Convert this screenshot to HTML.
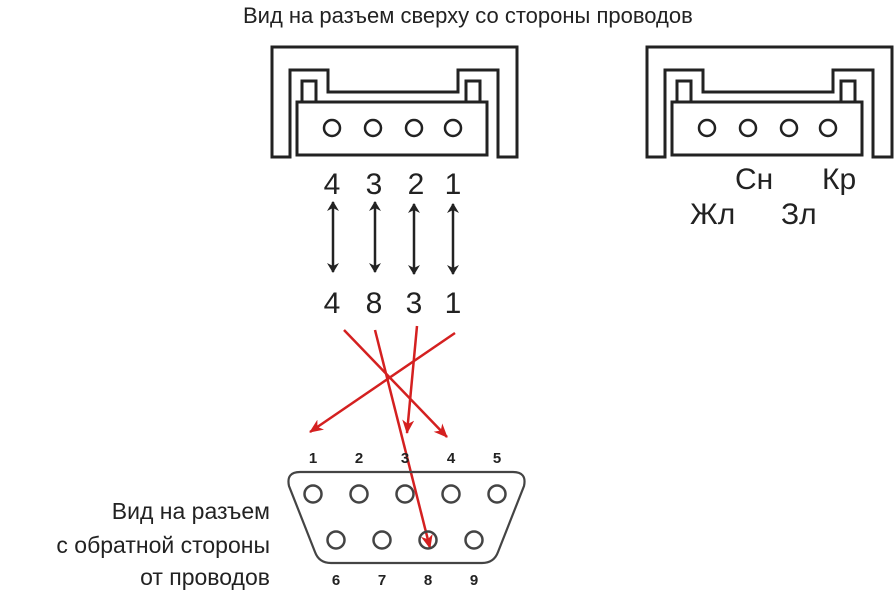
<!DOCTYPE html>
<html><head><meta charset="utf-8"><style>
body{margin:0;background:#fff;width:894px;height:595px;overflow:hidden}
svg{display:block}
text{font-family:"Liberation Sans",sans-serif;fill:#222}
</style></head><body>
<svg width="894" height="595" viewBox="0 0 894 595">
<defs>
<marker id="ar" markerWidth="10" markerHeight="12" refX="9" refY="6" orient="auto" markerUnits="userSpaceOnUse"><path d="M0,0 L10,6 L0,12 L3,6 Z" fill="#222"/></marker>
<marker id="al" markerWidth="10" markerHeight="12" refX="1" refY="6" orient="auto" markerUnits="userSpaceOnUse"><path d="M10,0 L0,6 L10,12 L7,6 Z" fill="#222"/></marker>
<marker id="rr" markerWidth="14" markerHeight="12" refX="13" refY="6" orient="auto" markerUnits="userSpaceOnUse"><path d="M0,0 L14,6 L0,12 L4,6 Z" fill="#d42020"/></marker>
<g id="con">
<path d="M272,47 H517 V157 H498 V70 H458 V92 H328 V70 H290 V157 H272 Z" fill="none" stroke="#222" stroke-width="3"/>
<rect x="302" y="81" width="14" height="21" fill="none" stroke="#222" stroke-width="3"/>
<rect x="466" y="81" width="14" height="21" fill="none" stroke="#222" stroke-width="3"/>
<rect x="297" y="102" width="190" height="53" fill="#fff" stroke="#222" stroke-width="3"/>
<circle cx="332" cy="128" r="8" fill="none" stroke="#222" stroke-width="2.5"/>
<circle cx="373" cy="128" r="8" fill="none" stroke="#222" stroke-width="2.5"/>
<circle cx="414" cy="128" r="8" fill="none" stroke="#222" stroke-width="2.5"/>
<circle cx="453" cy="128" r="8" fill="none" stroke="#222" stroke-width="2.5"/>
</g>
</defs>
<text x="243" y="23" font-size="22">Вид на разъем сверху со стороны проводов</text>
<use href="#con"/>
<use href="#con" transform="translate(375,0)"/>
<g font-size="30" text-anchor="middle">
<text x="332" y="194">4</text><text x="374" y="194">3</text><text x="416" y="194">2</text><text x="453" y="194">1</text>
<text x="332" y="313">4</text><text x="374" y="313">8</text><text x="414" y="313">3</text><text x="453" y="313">1</text>
</g>
<g font-size="30">
<text x="735" y="189">Сн</text><text x="822" y="189">Кр</text>
<text x="690" y="224">Жл</text><text x="781" y="224">Зл</text>
</g>
<g stroke="#222" stroke-width="2.5" marker-start="url(#al)" marker-end="url(#ar)">
<line x1="333" y1="202" x2="333" y2="272"/>
<line x1="375" y1="202" x2="375" y2="272"/>
<line x1="414" y1="204" x2="414" y2="274"/>
<line x1="453" y1="204" x2="453" y2="274"/>
</g>
<g stroke="#d42020" stroke-width="2.5" marker-end="url(#rr)">
<line x1="344" y1="330" x2="447" y2="437"/>
<line x1="375" y1="330" x2="430" y2="548"/>
<line x1="417" y1="326" x2="407" y2="433"/>
<line x1="455" y1="333" x2="310" y2="432"/>
</g>
<g font-size="15" font-weight="bold" text-anchor="middle" fill="#333">
<text x="313" y="463">1</text><text x="359" y="463">2</text><text x="405" y="463">3</text><text x="451" y="463">4</text><text x="497" y="463">5</text>
<text x="336" y="585">6</text><text x="382" y="585">7</text><text x="428" y="585">8</text><text x="474" y="585">9</text>
</g>
<path d="M300,472 H513 Q527,472 524,486 L498,552 Q494,563 482,563 H331 Q319,563 315,552 L289,486 Q286,472 300,472 Z" fill="none" stroke="#444" stroke-width="2.2"/>
<g fill="none" stroke="#444" stroke-width="2.5">
<circle cx="313" cy="494" r="8.5"/><circle cx="359" cy="494" r="8.5"/><circle cx="405" cy="494" r="8.5"/><circle cx="451" cy="494" r="8.5"/><circle cx="497" cy="494" r="8.5"/>
<circle cx="336" cy="540" r="8.5"/><circle cx="382" cy="540" r="8.5"/><circle cx="428" cy="540" r="8.5"/><circle cx="474" cy="540" r="8.5"/>
</g>
<g font-size="23" text-anchor="end">
<text x="270" y="519">Вид на разъем</text>
<text x="270" y="553">с обратной стороны</text>
<text x="270" y="585">от проводов</text>
</g>
</svg>
</body></html>
